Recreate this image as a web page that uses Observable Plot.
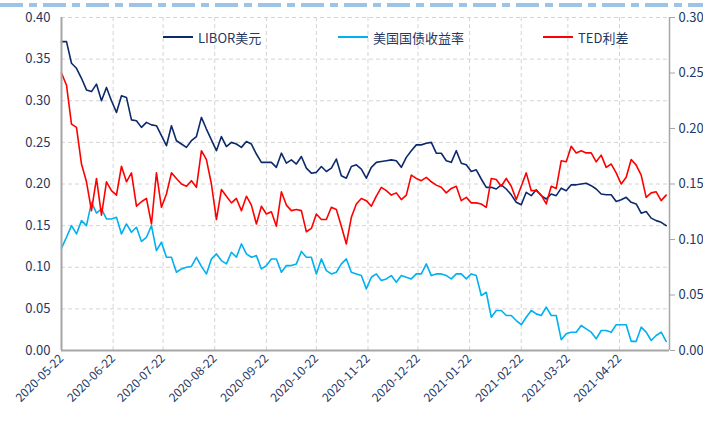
<!DOCTYPE html>
<html><head><meta charset="utf-8">
<script src="https://cdn.jsdelivr.net/npm/d3@7"></script>
<script src="https://cdn.jsdelivr.net/npm/@observablehq/plot@0.6"></script>
<style>
body{margin:0;background:#fff;font-family:"Noto Sans CJK SC","Noto Sans",sans-serif;}
#wrap{position:relative;width:703px;height:429px;overflow:hidden;}
#deco{position:absolute;left:0;top:0;}
.leg{position:absolute;top:28px;height:18px;display:flex;align-items:center;font-size:13px;color:#1f3864;white-space:nowrap;}
.leg i{display:inline-block;width:30px;height:2px;margin-right:5px;}
</style></head><body><div id="wrap"></div>
<script>
// sample dates: every 3 days from start
const startDate = "2020-05-22";
const endDate = "2021-05-22";
const stepDays = 3;
const seriesNames = ["LIBOR美元", "美国国债收益率", "TED利差"];
const seriesColors = ["#0c2a6b", "#00b0f0", "#ff0000"];
const libor = [0.371,0.371,0.345,0.339,0.327,0.313,0.311,0.320,0.300,0.316,0.300,0.286,0.306,0.304,0.277,0.276,0.268,0.274,0.271,0.270,
0.258,0.246,0.270,0.252,0.248,0.244,0.252,0.257,0.280,0.266,0.253,0.240,0.257,0.245,0.250,0.248,0.244,0.251,0.248,0.236,
0.226,0.226,0.226,0.220,0.237,0.225,0.229,0.224,0.233,0.219,0.213,0.214,0.221,0.215,0.219,0.230,0.210,0.207,0.221,0.223,
0.218,0.207,0.220,0.226,0.227,0.228,0.229,0.228,0.220,0.232,0.240,0.247,0.247,0.249,0.250,0.237,0.237,0.228,0.226,0.240,
0.225,0.223,0.215,0.217,0.206,0.196,0.196,0.194,0.199,0.194,0.187,0.178,0.175,0.190,0.186,0.193,0.186,0.182,0.188,0.186,
0.195,0.192,0.199,0.199,0.200,0.201,0.198,0.194,0.188,0.187,0.187,0.179,0.181,0.184,0.178,0.176,0.165,0.167,0.159,0.156,
0.154,0.150];
const treasury = [0.123,0.136,0.150,0.140,0.156,0.150,0.178,0.165,0.170,0.158,0.158,0.160,0.140,0.152,0.142,0.148,0.131,0.136,0.150,0.120,
0.130,0.112,0.112,0.094,0.098,0.100,0.101,0.112,0.101,0.092,0.110,0.116,0.108,0.104,0.118,0.112,0.128,0.116,0.112,0.114,
0.098,0.102,0.110,0.110,0.094,0.102,0.102,0.104,0.119,0.112,0.112,0.092,0.110,0.096,0.092,0.094,0.104,0.110,0.094,0.092,
0.090,0.074,0.088,0.092,0.084,0.086,0.090,0.082,0.090,0.088,0.086,0.092,0.092,0.104,0.090,0.092,0.092,0.090,0.086,0.092,
0.092,0.086,0.092,0.090,0.066,0.070,0.040,0.048,0.048,0.042,0.042,0.036,0.031,0.040,0.048,0.044,0.042,0.052,0.042,0.042,
0.013,0.020,0.022,0.022,0.030,0.026,0.022,0.014,0.024,0.024,0.022,0.031,0.031,0.031,0.011,0.011,0.028,0.022,0.012,0.018,
0.022,0.011];
const ted = [0.250,0.239,0.204,0.201,0.168,0.152,0.126,0.155,0.122,0.152,0.144,0.140,0.166,0.152,0.160,0.130,0.134,0.137,0.114,0.160,
0.129,0.141,0.160,0.155,0.150,0.148,0.153,0.147,0.180,0.172,0.150,0.118,0.145,0.139,0.133,0.137,0.126,0.139,0.131,0.114,
0.130,0.123,0.125,0.112,0.143,0.131,0.126,0.127,0.126,0.107,0.110,0.123,0.118,0.118,0.129,0.127,0.112,0.096,0.120,0.132,
0.137,0.135,0.130,0.139,0.147,0.144,0.140,0.142,0.136,0.140,0.158,0.155,0.153,0.156,0.152,0.149,0.147,0.142,0.146,0.148,
0.135,0.138,0.133,0.133,0.132,0.129,0.155,0.154,0.148,0.155,0.148,0.136,0.148,0.160,0.144,0.144,0.140,0.132,0.148,0.146,
0.171,0.170,0.184,0.178,0.180,0.178,0.178,0.170,0.176,0.165,0.168,0.160,0.150,0.156,0.172,0.167,0.158,0.138,0.142,0.143,
0.135,0.140];
const xTickLabels = ["2020-05-22","2020-06-22","2020-07-22","2020-08-22","2020-09-22","2020-10-22","2020-11-22","2020-12-22","2021-01-22","2021-02-22","2021-03-22","2021-04-22"];
const leftTicks = [0,0.05,0.10,0.15,0.20,0.25,0.30,0.35,0.40];
const rightTicks = [0,0.05,0.10,0.15,0.20,0.25,0.30];

const leftMax = 0.40, rightMax = 0.30, k = leftMax / rightMax;
const parse = d3.utcParse("%Y-%m-%d");
const t0 = parse(startDate), t1 = parse(endDate);
const dates = libor.map((_, i) => d3.utcDay.offset(t0, i * stepDays));
const xTicks = xTickLabels.map(parse);
const rows = [];
[libor, treasury, ted].forEach((arr, s) => arr.forEach((v, i) => rows.push({date: dates[i], v: s === 2 ? v * k : v, s: seriesNames[s]})));

const axisColor = "#a6a6a6", textColor = "#1f3864", gridColor = "#d4d4d4";
const chart = Plot.plot({
  width: 703, height: 429,
  marginTop: 17, marginBottom: 79, marginLeft: 61, marginRight: 34,
  style: {fontFamily: '"Noto Sans CJK SC","Noto Sans",sans-serif', fontSize: "12px", color: textColor, background: "#fff"},
  x: {type: "utc", domain: [t0, t1]},
  y: {domain: [0, leftMax]},
  color: {domain: seriesNames, range: seriesColors},
  marks: [
    Plot.gridY(leftTicks.slice(1), {stroke: gridColor, strokeOpacity: 1, strokeDasharray: "4,3"}),
    Plot.gridX(xTicks.slice(1), {stroke: gridColor, strokeOpacity: 1, strokeDasharray: "4,3"}),
    Plot.line(rows, {x: "date", y: "v", z: "s", stroke: "s", strokeWidth: 1.6}),
    Plot.ruleX([t0], {stroke: axisColor, strokeWidth: 2}),
    Plot.ruleX([t1], {stroke: axisColor, strokeWidth: 1.5}),
    Plot.ruleY([0], {stroke: axisColor, strokeWidth: 2}),
    Plot.axisY(leftTicks, {anchor: "left", tickSize: 0, tickPadding: 11, tickFormat: d3.format(".2f"), fontSize: 13, fill: textColor, label: null}),
    Plot.axisY(rightTicks.map(d => d * k), {anchor: "right", tickSize: 5, tickPadding: 4, stroke: axisColor, tickFormat: d => d3.format(".2f")(d / k), fontSize: 13, fill: textColor, label: null}),
    Plot.axisX(xTicks, {tickSize: 0, tickRotate: -45, tickPadding: 6, tickFormat: d3.utcFormat("%Y-%m-%d"), fontSize: 12, fill: textColor, label: null})
  ]
});
const wrap = document.getElementById("wrap");
wrap.appendChild(chart);
// decorative dashed band at the top
const deco = document.createElementNS("http://www.w3.org/2000/svg", "svg");
deco.setAttribute("id", "deco"); deco.setAttribute("width", 703); deco.setAttribute("height", 10);
deco.innerHTML = '<line x1="0" y1="5" x2="703" y2="5" stroke="#9dc3e6" stroke-width="4" stroke-dasharray="23,6,8,6"/>';
wrap.appendChild(deco);
// legend inside plot area
const legLeft = [163, 338, 543];
seriesNames.forEach((n, i) => {
  const d = document.createElement("div");
  d.className = "leg"; d.style.left = legLeft[i] + "px";
  d.innerHTML = '<i style="background:' + seriesColors[i] + '"></i><span>' + n + '</span>';
  wrap.appendChild(d);
});
</script></body></html>
